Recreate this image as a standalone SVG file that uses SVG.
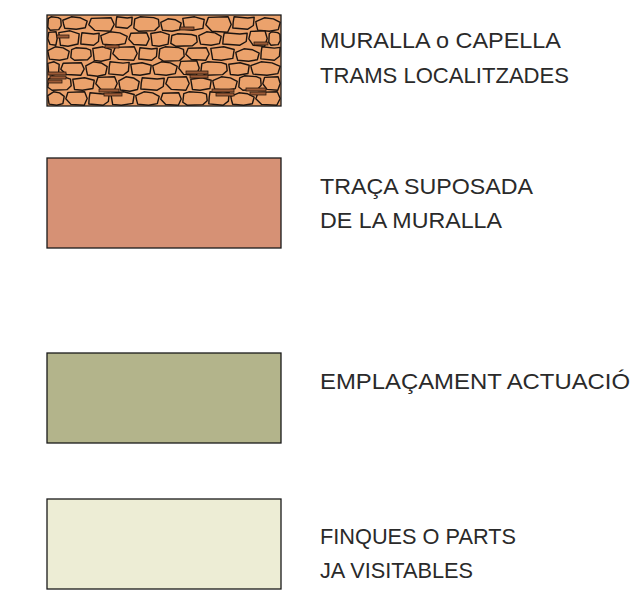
<svg xmlns="http://www.w3.org/2000/svg" xmlns:xlink="http://www.w3.org/1999/xlink" width="638" height="595" viewBox="0 0 638 595">
<style>
.lbl{font-family:"Liberation Sans","DejaVu Sans",sans-serif;font-size:22.5px;fill:#2a2a2a;}
.box{stroke:#1a1a1a;stroke-width:1.3;}
.st{fill:#eba26c;stroke:#1c1410;stroke-width:1.4;vector-effect:non-scaling-stroke;stroke-linejoin:round;}
.br{fill:#9c5a36;stroke:#2a1a10;stroke-width:0.8;}
</style>
<defs>
<path id="s1" class="st" d="M4,14 L25,0 L78,6 L97,18 L100,66 L82,96 L18,100 L0,78 Z"/>
<path id="s2" class="st" d="M0,28 L35,0 L72,8 L100,34 L92,88 L55,100 L8,92 L3,58 Z"/>
<path id="s3" class="st" d="M10,4 L88,0 L100,50 L86,100 L24,94 L0,52 Z"/>
<path id="s4" class="st" d="M0,12 L55,0 L100,20 L94,86 L45,100 L8,94 Z"/>
<path id="s5" class="st" d="M6,0 L70,10 L100,4 L96,70 L70,100 L0,90 L2,40 Z"/>
<clipPath id="c1"><rect x="47" y="15" width="234" height="91"/></clipPath>
</defs>

<g id="legend-muralla">
<rect x="47" y="15" width="234" height="91" fill="#eba26c"/>
<g clip-path="url(#c1)">
<use xlink:href="#s1" transform="translate(47.8,16.8) scale(.134,.134)"/>
<use xlink:href="#s2" transform="translate(62.8,16.8) scale(.244,.124)"/>
<use xlink:href="#s3" transform="translate(88.8,17.8) scale(.254,.134)"/>
<use xlink:href="#s5" transform="translate(115.8,16.8) scale(.164,.114)"/>
<use xlink:href="#s1" transform="translate(133.8,16.8) scale(.254,.144)"/>
<use xlink:href="#s2" transform="translate(160.8,18.8) scale(.204,.124)"/>
<use xlink:href="#s4" transform="translate(182.8,16.8) scale(.214,.134)"/>
<use xlink:href="#s3" transform="translate(205.8,16.8) scale(.254,.154)"/>
<use xlink:href="#s5" transform="translate(232.8,16.8) scale(.214,.124)"/>
<use xlink:href="#s2" transform="translate(255.8,17.8) scale(.244,.134)"/>
<use xlink:href="#s3" transform="translate(47.8,31.8) scale(.094,.134)"/>
<use xlink:href="#s4" transform="translate(58.8,30.8) scale(.204,.154)"/>
<use xlink:href="#s5" transform="translate(80.8,32.8) scale(.184,.124)"/>
<use xlink:href="#s2" transform="translate(100.8,31.8) scale(.264,.134)"/>
<use xlink:href="#s3" transform="translate(128.8,32.8) scale(.204,.124)"/>
<use xlink:href="#s4" transform="translate(150.8,31.8) scale(.184,.144)"/>
<use xlink:href="#s1" transform="translate(170.8,33.8) scale(.264,.124)"/>
<use xlink:href="#s2" transform="translate(198.8,31.8) scale(.224,.134)"/>
<use xlink:href="#s5" transform="translate(222.8,32.8) scale(.244,.124)"/>
<use xlink:href="#s3" transform="translate(248.8,30.8) scale(.184,.154)"/>
<use xlink:href="#s1" transform="translate(268.8,31.8) scale(.114,.134)"/>
<use xlink:href="#s2" transform="translate(47.8,46.8) scale(.214,.134)"/>
<use xlink:href="#s1" transform="translate(70.8,47.8) scale(.204,.124)"/>
<use xlink:href="#s4" transform="translate(92.8,46.8) scale(.184,.144)"/>
<use xlink:href="#s3" transform="translate(112.8,46.8) scale(.244,.134)"/>
<use xlink:href="#s5" transform="translate(138.8,47.8) scale(.184,.124)"/>
<use xlink:href="#s1" transform="translate(158.8,46.8) scale(.254,.144)"/>
<use xlink:href="#s3" transform="translate(185.8,47.8) scale(.234,.124)"/>
<use xlink:href="#s4" transform="translate(210.8,46.8) scale(.234,.134)"/>
<use xlink:href="#s2" transform="translate(235.8,48.8) scale(.234,.124)"/>
<use xlink:href="#s5" transform="translate(260.8,46.8) scale(.194,.134)"/>
<use xlink:href="#s4" transform="translate(47.8,61.8) scale(.114,.134)"/>
<use xlink:href="#s3" transform="translate(60.8,62.8) scale(.234,.124)"/>
<use xlink:href="#s2" transform="translate(85.8,61.8) scale(.214,.144)"/>
<use xlink:href="#s5" transform="translate(108.8,61.8) scale(.204,.134)"/>
<use xlink:href="#s4" transform="translate(130.8,62.8) scale(.204,.124)"/>
<use xlink:href="#s2" transform="translate(152.8,61.8) scale(.244,.134)"/>
<use xlink:href="#s3" transform="translate(178.8,60.8) scale(.204,.144)"/>
<use xlink:href="#s1" transform="translate(200.8,61.8) scale(.264,.134)"/>
<use xlink:href="#s4" transform="translate(228.8,62.8) scale(.204,.124)"/>
<use xlink:href="#s2" transform="translate(250.8,61.8) scale(.294,.134)"/>
<use xlink:href="#s1" transform="translate(47.8,76.8) scale(.234,.134)"/>
<use xlink:href="#s4" transform="translate(72.8,77.8) scale(.214,.124)"/>
<use xlink:href="#s3" transform="translate(95.8,76.8) scale(.214,.134)"/>
<use xlink:href="#s2" transform="translate(118.8,76.8) scale(.204,.144)"/>
<use xlink:href="#s5" transform="translate(140.8,77.8) scale(.234,.124)"/>
<use xlink:href="#s3" transform="translate(165.8,76.8) scale(.234,.134)"/>
<use xlink:href="#s4" transform="translate(190.8,77.8) scale(.204,.124)"/>
<use xlink:href="#s2" transform="translate(212.8,76.8) scale(.244,.134)"/>
<use xlink:href="#s1" transform="translate(238.8,75.8) scale(.224,.144)"/>
<use xlink:href="#s3" transform="translate(262.8,76.8) scale(.174,.134)"/>
<use xlink:href="#s2" transform="translate(47.8,91.8) scale(.164,.134)"/>
<use xlink:href="#s3" transform="translate(65.8,91.8) scale(.214,.134)"/>
<use xlink:href="#s5" transform="translate(88.8,92.8) scale(.204,.124)"/>
<use xlink:href="#s4" transform="translate(110.8,91.8) scale(.234,.134)"/>
<use xlink:href="#s2" transform="translate(135.8,91.8) scale(.234,.134)"/>
<use xlink:href="#s3" transform="translate(160.8,92.8) scale(.204,.124)"/>
<use xlink:href="#s1" transform="translate(182.8,91.8) scale(.244,.134)"/>
<use xlink:href="#s5" transform="translate(208.8,91.8) scale(.204,.134)"/>
<use xlink:href="#s2" transform="translate(230.8,92.8) scale(.234,.124)"/>
<use xlink:href="#s3" transform="translate(255.8,91.8) scale(.244,.134)"/>
<rect class="br" x="48" y="72" width="18" height="3"/>
<rect class="br" x="50" y="76" width="16" height="3"/>
<rect class="br" x="48" y="80" width="14" height="3"/>
<rect class="br" x="99" y="89" width="20" height="3"/>
<rect class="br" x="104" y="93" width="18" height="3"/>
<rect class="br" x="186" y="71" width="22" height="3"/>
<rect class="br" x="190" y="75" width="18" height="3"/>
<rect class="br" x="212" y="89" width="22" height="3"/>
<rect class="br" x="216" y="93" width="18" height="3"/>
<rect class="br" x="246" y="88" width="20" height="3"/>
<rect class="br" x="250" y="92" width="16" height="3"/>
<rect class="br" x="180" y="27" width="14" height="3"/>
<rect class="br" x="254" y="42" width="14" height="3"/>
<rect class="br" x="105" y="45" width="14" height="3"/>
<rect class="br" x="57" y="35" width="12" height="3"/>
</g>
<rect class="box" x="47" y="15" width="234" height="91" fill="none"/>
<text class="lbl" x="320" y="48" textLength="241" lengthAdjust="spacingAndGlyphs">MURALLA o CAPELLA</text>
<text class="lbl" x="320" y="83" textLength="249" lengthAdjust="spacingAndGlyphs">TRAMS LOCALITZADES</text>
</g>

<g id="legend-traca">
<rect class="box" x="47" y="158" width="234" height="90" fill="#d69175"/>
<text class="lbl" x="320" y="194" textLength="213" lengthAdjust="spacingAndGlyphs">TRAÇA SUPOSADA</text>
<text class="lbl" x="320" y="228" textLength="182" lengthAdjust="spacingAndGlyphs">DE LA MURALLA</text>
</g>

<g id="legend-emplacament">
<rect class="box" x="47" y="353" width="234" height="90" fill="#b3b48b"/>
<text class="lbl" x="320" y="389" textLength="310" lengthAdjust="spacingAndGlyphs">EMPLAÇAMENT ACTUACIÓ</text>
</g>

<g id="legend-finques">
<rect class="box" x="47" y="499" width="234" height="90" fill="#ededd5" stroke="#6b6b63"/>
<text class="lbl" x="320" y="544" textLength="196" lengthAdjust="spacingAndGlyphs">FINQUES O PARTS</text>
<text class="lbl" x="320" y="578" textLength="153" lengthAdjust="spacingAndGlyphs">JA VISITABLES</text>
</g>
</svg>
